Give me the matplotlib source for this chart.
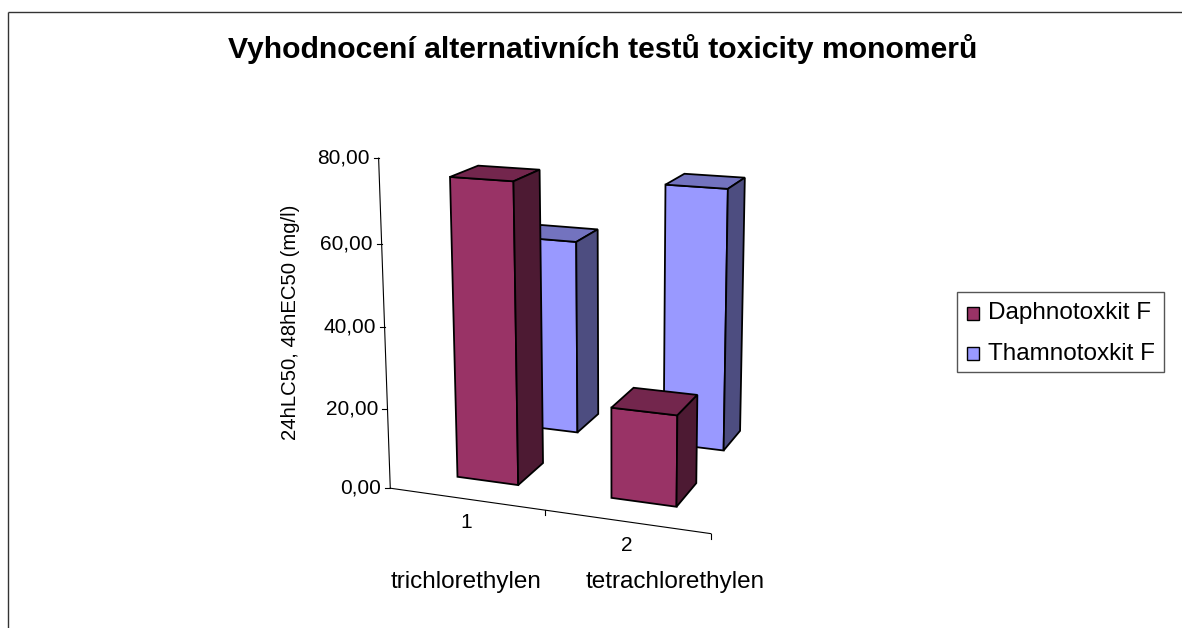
import numpy as np
import matplotlib
matplotlib.use("Agg")
import matplotlib.pyplot as plt
from matplotlib.patches import Polygon, Rectangle

# ---------------- data ----------------
title = "Vyhodnocení alternativních testů toxicity monomerů"
category_numbers = ["1", "2"]
category_names = ["trichlorethylen", "tetrachlorethylen"]
series_names = ["Daphnotoxkit F", "Thamnotoxkit F"]
daphnotoxkit = [74.25, 22.34]
thamnotoxkit = [51.41, 67.86]
value_ticks = [0, 20, 40, 60, 80]
y_label = "24hLC50, 48hEC50 (mg/l)"

# ---------------- style / 3D view (Excel-like perspective) ----------------
FRONT = ["#993366", "#9999FF"]
TOP = ["#73264D", "#7373BF"]
SIDE = ["#4D1A33", "#4D4D80"]
CAM = dict(a=0.344708, b=0.234503, D=9.80462, f=1594.41, Tx=1.09031, Ty=1.30362, cx=618.012, cy=254.31)
HS = 0.0250505          # world height per value unit
BAR_W = 0.402444        # bar width (category = 1)
BAR_D = 0.392292        # bar depth
ROW_Z = [0.305047, 1.2925]  # front-face depth of each series row
FONT = "Liberation Sans"


def proj(X, Y, Z):
    a, b, D, f = CAM["a"], CAM["b"], CAM["D"], CAM["f"]
    fwd = np.array([-np.sin(a) * np.cos(b), -np.sin(b), np.cos(a) * np.cos(b)])
    right = np.array([np.cos(a), 0.0, np.sin(a)])
    up = np.array([-np.sin(a) * np.sin(b), np.cos(b), np.cos(a) * np.sin(b)])
    C = np.array([CAM["Tx"], CAM["Ty"], 1.0]) - D * fwd
    d = np.array([X, Y * HS, Z]) - C
    zc = d @ fwd
    return (CAM["cx"] + f * (d @ right) / zc, CAM["cy"] - f * (d @ up) / zc)


fig = plt.figure(figsize=(11.82, 6.28), dpi=100)
ax = fig.add_axes([0, 0, 1, 1])
ax.set_xlim(0, 1182)
ax.set_ylim(628, 0)
ax.axis("off")

# chart border (top and left edges visible)
ax.plot([7.5, 1182], [11.5, 11.5], color="#333333", lw=1.0, solid_capstyle="butt")
ax.plot([7.5, 7.5], [11.5, 628], color="#333333", lw=1.0, solid_capstyle="butt")

# axes lines
o = proj(0, 0, 0)
t = proj(0, value_ticks[-1], 0)
e = proj(len(category_numbers), 0, 0)
ax.plot([o[0], t[0]], [o[1], t[1]], color="black", lw=0.8)
ax.plot([o[0], e[0]], [o[1], e[1]], color="black", lw=0.8)

tick_texts = []
for v in value_ticks:
    px, py = proj(0, v, 0)
    ax.plot([px - 5, px], [py, py], color="black", lw=0.8)
    tick_texts.append(ax.text(px - 9, py, f"{v:.2f}".replace(".", ","), ha="right", va="center",
                              fontsize=14.5, family=FONT, color="black"))
for k in range(1, len(category_numbers) + 1):
    px, py = proj(k, 0, 0)
    ax.plot([px, px], [py, py + 5], color="black", lw=0.8)

num_texts = []
for i, lab in enumerate(category_numbers):
    px, py = proj(i + 0.5, 0, 0)
    num_texts.append(ax.text(px, py + 23.5, lab, ha="center", va="center", fontsize=14.5, family=FONT))

# bars: back row first, left to right
values = [daphnotoxkit, thamnotoxkit]
for r in (1, 0):
    zf = ROW_Z[r]
    zb = zf + BAR_D
    for i, v in enumerate(values[r]):
        xl, xr = i + 0.5 - BAR_W / 2, i + 0.5 + BAR_W / 2
        front = [proj(xl, 0, zf), proj(xr, 0, zf), proj(xr, v, zf), proj(xl, v, zf)]
        top = [proj(xl, v, zf), proj(xr, v, zf), proj(xr, v, zb), proj(xl, v, zb)]
        side = [proj(xr, 0, zf), proj(xr, 0, zb), proj(xr, v, zb), proj(xr, v, zf)]
        for poly, c in ((front, FRONT[r]), (top, TOP[r]), (side, SIDE[r])):
            ax.add_patch(Polygon(poly, closed=True, facecolor=c, edgecolor="black", lw=1.3,
                                 joinstyle="miter"))

# texts
tt = ax.text(603, 58.3, title, ha="center", va="baseline", fontsize=17, fontweight="bold", family=FONT)
yl = ax.text(290.3, 322.5, y_label, ha="center", va="center", rotation=90, fontsize=14.5, family=FONT)
name_x = [466.3, 675.0]
name_texts = [ax.text(x, 582, n, ha="center", va="center", fontsize=17, family=FONT)
              for x, n in zip(name_x, category_names)]

# legend
ax.add_patch(Rectangle((956.7, 291.7), 207.3, 80, facecolor="white", edgecolor="#555555", lw=1.0))
leg_texts = []
for k, (n, c) in enumerate(zip(series_names, FRONT)):
    yc = 313.5 + 40 * k
    ax.add_patch(Rectangle((966.7, yc - 6.8), 12.6, 13.7, facecolor=c, edgecolor="black", lw=1.0))
    leg_texts.append(ax.text(988, yc, n, ha="left", va="center", fontsize=17, family=FONT))

# fit text sizes to the measured widths
fig.canvas.draw()
rend = fig.canvas.get_renderer()


def fit(txts, width, vertical=False):
    bb = txts[0].get_window_extent(rend)
    cur = bb.height if vertical else bb.width
    s = txts[0].get_fontsize() * width / cur
    for tx in txts:
        tx.set_fontsize(s)


fit([tt], 753)
fit([tick_texts[-1]] + tick_texts[:-1] + num_texts, 52)
fit([yl], 235, vertical=True)
fit(name_texts, 155 * 0.98)
fit(leg_texts, 167 * 0.98)

fig.savefig("out.png", dpi=100)
